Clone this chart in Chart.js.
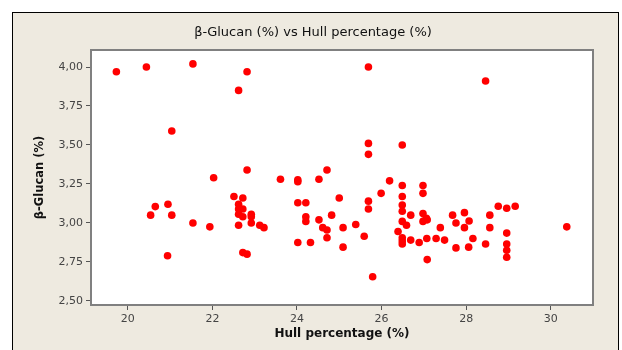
<!DOCTYPE html>
<html>
<head>
<meta charset="utf-8">
<script src="https://cdn.jsdelivr.net/npm/chart.js@4.4.1/dist/chart.umd.min.js"></script>
<style>
  html, body { margin: 0; padding: 0; background: #fff; }
  #wrap { width: 622px; height: 350px; }
</style>
</head>
<body>
<div id="wrap"><canvas id="scatter" width="622" height="350"></canvas></div>
<script>
const hull = [
  19.73, 20.44, 21.54, 22.82, 22.62, 21.04, 22.03, 22.82,
  22.51, 22.72, 22.62, 22.62, 22.72, 22.62, 22.72, 22.92, 22.92, 22.92, 23.12, 22.62,
  20.54, 20.65, 20.95, 21.04, 21.54, 21.94, 20.94, 22.72, 22.82, 23.22,
  24.71, 23.61, 24.02, 24.02, 24.52, 26.19, 26.49, 26.98, 25.99, 26.49, 26.98,
  24.02, 24.21, 25.00, 25.69, 25.69, 26.49, 26.49, 26.69, 26.98, 26.98, 27.06,
  24.82, 24.21, 24.21, 24.52, 24.61, 24.71, 24.71, 25.09, 25.39, 25.59,
  26.49, 26.59, 26.39, 26.49, 26.49, 26.49, 26.69, 26.89, 27.07, 27.08,
  24.02, 24.32, 25.09, 25.79,
  25.69, 25.69, 26.49, 25.69, 28.46,
  27.08, 28.76, 28.96, 29.16, 27.68, 27.96, 28.56, 27.76, 28.07, 27.39, 27.96, 28.56,
  28.96, 30.38, 27.29, 27.49, 28.16, 28.46, 27.76, 28.06, 28.96, 28.96, 28.96
];
const glucan = [
  3.97, 4.00, 4.02, 3.97, 3.85, 3.59, 3.29, 3.34,
  3.17, 3.16, 3.12, 3.09, 3.09, 3.056, 3.04, 3.056, 3.04, 3.00, 2.985, 2.985,
  3.05, 3.105, 3.12, 3.05, 3.00, 2.975, 2.79, 2.81, 2.80, 2.97,
  3.34, 3.28, 3.276, 3.265, 3.28, 3.27, 3.24, 3.24, 3.19, 3.17, 3.19,
  3.13, 3.13, 3.16, 3.14, 3.09, 3.115, 3.075, 3.05, 3.06, 3.01, 3.03,
  3.05, 3.04, 3.01, 3.02, 2.97, 2.955, 2.905, 2.97, 2.99, 2.915,
  3.01, 2.985, 2.945, 2.905, 2.885, 2.865, 2.89, 2.875, 2.90, 2.765,
  2.875, 2.875, 2.845, 2.655,
  4.00, 3.51, 3.50, 3.44, 3.91,
  3.02, 3.107, 3.094, 3.107, 3.05, 3.066, 3.05, 3.00, 3.013, 2.97, 2.97, 2.97,
  2.935, 2.975, 2.90, 2.89, 2.90, 2.865, 2.84, 2.845, 2.865, 2.825, 2.78
];
const xTicks = [20, 22, 24, 26, 28, 30];
const yTicks = [2.5, 2.75, 3.0, 3.25, 3.5, 3.75, 4.0];

const points = hull.map((x, i) => ({ x, y: glucan[i] }));

// beige panel, outer frame and title behind the plot; grey box round the plot after
const frame = {
  id: "frame",
  beforeDraw(chart) {
    const { ctx, chartArea: a } = chart;
    ctx.save();
    ctx.fillStyle = "#ffffff";
    ctx.fillRect(0, 0, chart.width, chart.height);
    ctx.fillStyle = "#eeeae0";
    ctx.fillRect(12, 12, 607, 338);
    ctx.strokeStyle = "#000";
    ctx.lineWidth = 1;
    ctx.strokeRect(12.5, 12.5, 606, 340);
    ctx.fillStyle = "#ffffff";
    ctx.fillRect(a.left, a.top, a.right - a.left, a.bottom - a.top);
    ctx.fillStyle = "#111";
    ctx.font = "13px 'DejaVu Sans'";
    ctx.textAlign = "center";
    ctx.textBaseline = "middle";
    ctx.fillText("β-Glucan (%) vs Hull percentage (%)", 313, 33);
    ctx.restore();
  },
  afterDraw(chart) {
    const { ctx, chartArea: a } = chart;
    ctx.save();
    ctx.strokeStyle = "#808080";
    ctx.lineWidth = 2;
    ctx.strokeRect(a.left, a.top, a.right - a.left, a.bottom - a.top);
    ctx.restore();
  },
};

new Chart(document.getElementById("scatter"), {
  type: "scatter",
  data: {
    datasets: [
      {
        data: points,
        backgroundColor: "#ff0000",
        borderColor: "#ff0000",
        pointRadius: 3.8,
        pointHoverRadius: 3.8,
        borderWidth: 0,
      },
    ],
  },
  options: {
    responsive: false,
    animation: false,
    layout: { padding: { left: 33, right: 29, top: 50, bottom: 9 } },
    plugins: { legend: { display: false }, tooltip: { enabled: false }, title: { display: false } },
    scales: {
      x: {
        type: "linear",
        min: 19.13,
        max: 31.0,
        afterBuildTicks: (s) => { s.ticks = xTicks.map((v) => ({ value: v })); },
        afterFit: (s) => { s.height = 36; },
        grid: { drawOnChartArea: false, tickLength: 5, color: "#555" },
        border: { display: false },
        ticks: { color: "#444", font: { family: "'DejaVu Sans'", size: 11 }, padding: 3 },
        title: {
          display: true,
          text: "Hull percentage (%)",
          color: "#111",
          font: { family: "'DejaVu Sans'", size: 12, weight: "bold" },
          padding: { top: 0, bottom: 0 },
        },
      },
      y: {
        type: "linear",
        min: 2.474,
        max: 4.109,
        afterBuildTicks: (s) => { s.ticks = yTicks.map((v) => ({ value: v })); },
        afterFit: (s) => { s.width = 58; },
        grid: { drawOnChartArea: false, tickLength: 5, color: "#555" },
        border: { display: false },
        ticks: {
          color: "#444",
          font: { family: "'DejaVu Sans'", size: 11 },
          padding: 3,
          callback: (v) => v.toFixed(2).replace(".", ","),
        },
        title: {
          display: true,
          text: "β-Glucan (%)",
          color: "#111",
          font: { family: "'DejaVu Sans'", size: 11.5, weight: "bold" },
          padding: { top: 0, bottom: 0 },
        },
      },
    },
  },
  plugins: [frame],
});
</script>
</body>
</html>
